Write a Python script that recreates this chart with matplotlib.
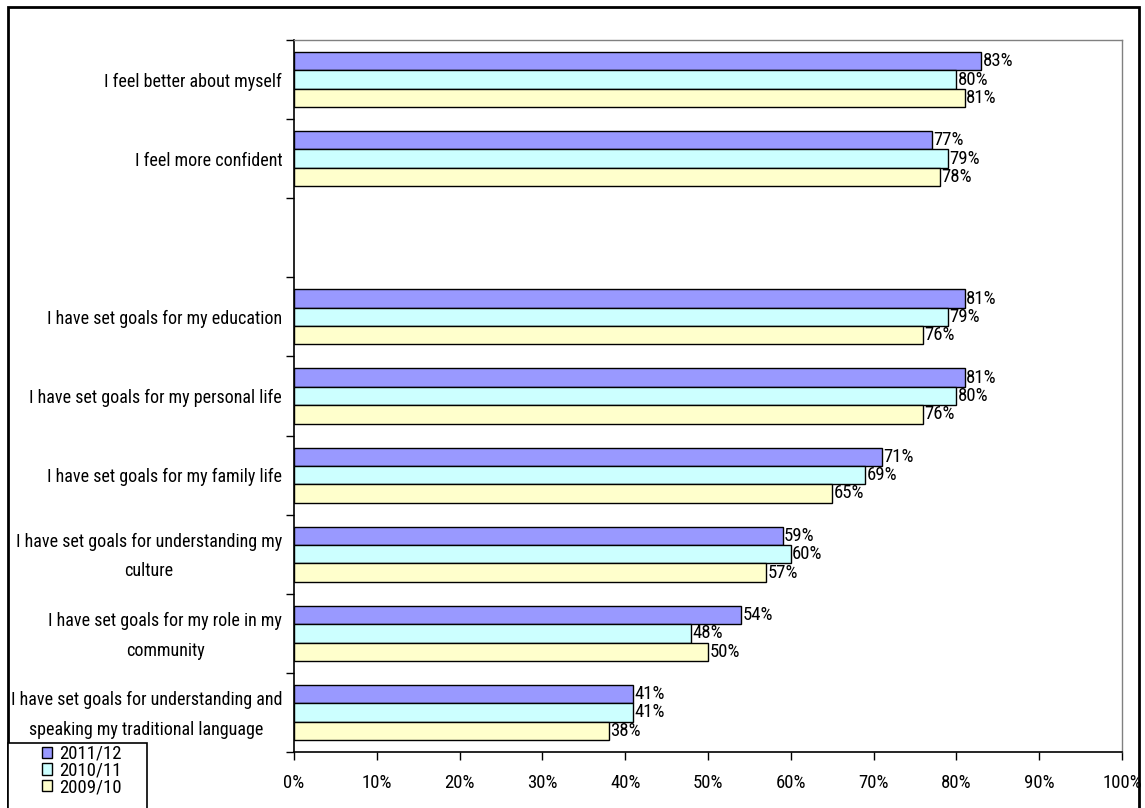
import matplotlib
matplotlib.use("Agg")
import matplotlib.pyplot as plt
from matplotlib.patches import Rectangle
from matplotlib import font_manager
from matplotlib.transforms import ScaledTranslation
import numpy as np

_avail = {f.name for f in font_manager.fontManager.ttflist}
_pref = ['Arial Narrow', 'Liberation Sans Narrow', 'Roboto Condensed', 'Archivo Narrow',
         'PT Sans Narrow', 'Liberation Sans']
_font = next((p for p in _pref if p in _avail), 'DejaVu Sans')
plt.rcParams['font.family'] = [_font, 'DejaVu Sans']

categories = [
    "I feel better about myself",
    "I feel more confident",
    "",
    "I have set goals for my education",
    "I have set goals for my personal life",
    "I have set goals for my family life",
    "I have set goals for understanding my\nculture",
    "I have set goals for my role in my\ncommunity",
    "I have set goals for understanding and\nspeaking my traditional language",
]
series_names = ["2011/12", "2010/11", "2009/10"]
v2011 = [83, 77, None, 81, 81, 71, 59, 54, 41]
v2010 = [80, 79, None, 79, 80, 69, 60, 48, 41]
v2009 = [81, 78, None, 76, 76, 65, 57, 50, 38]
colors = ["#9999FF", "#CCFFFF", "#FFFFCC"]
xticks = [0, 10, 20, 30, 40, 50, 60, 70, 80, 90, 100]

FS = 13.5
FSY = 13
W, H = 1145, 808
fig = plt.figure(figsize=(W / 100, H / 100), dpi=100)
ax = fig.add_axes([294 / W, 1 - 752 / H, (1122 - 294) / W, (752 - 40) / H])

n = len(categories)
y = np.arange(n)
bh = 0.232
offsets = [-bh, 0, bh]
handles = []
for vals, off, col, name in zip([v2011, v2010, v2009], offsets, colors, series_names):
    idx = [i for i, v in enumerate(vals) if v is not None]
    vv = [vals[i] for i in idx]
    b = ax.barh(y[idx] + off, vv, height=bh, color=col, edgecolor="black",
                linewidth=1.0, label=name, zorder=3)
    handles.append(b)
    for i, v in zip(idx, vv):
        ax.text(v + 0.15, y[i] + off, f"{v}%", va="center", ha="left",
                fontsize=FS, zorder=4)

ax.set_xlim(0, 100)
ax.set_ylim(n - 0.5, -0.5)
ax.set_xticks(xticks)
ax.set_xticklabels([f"{t}%" for t in xticks], fontsize=FS)
ax.tick_params(axis="x", length=6, width=1, pad=10)

ax.set_yticks(y)
ax.set_yticklabels(categories, fontsize=FSY, multialignment="center", linespacing=1.8)
ax.tick_params(axis="y", which="major", length=0, pad=8.5)
ax.set_yticks(np.arange(-0.5, n, 1.0), minor=True)
ax.tick_params(axis="y", which="minor", length=6, width=1)
for lab in ax.get_yticklabels():
    if "\n" in lab.get_text():
        lab.set_transform(lab.get_transform() + ScaledTranslation(0, 5 / 100, fig.dpi_scale_trans))

for s in ["left", "bottom"]:
    ax.spines[s].set_color("black")
    ax.spines[s].set_linewidth(1.2)
for s in ["top", "right"]:
    ax.spines[s].set_color("#808080")
    ax.spines[s].set_linewidth(1.0)

# figure border
fig.patches.append(Rectangle((8 / W, -0.01), (1139 - 8) / W, 1 - 7 / H + 0.01,
                             transform=fig.transFigure, fill=False,
                             edgecolor="black", linewidth=2))
# legend box
fig.patches.append(Rectangle((8 / W, -0.01), (147 - 8) / W, 1 - 743 / H + 0.01,
                             transform=fig.transFigure, fill=True, facecolor="white",
                             edgecolor="black", linewidth=1.2, zorder=5))

leg = fig.legend(handles=handles, labels=series_names, loc="upper left",
                 bbox_to_anchor=(42 / W, 1 - 745 / H),
                 fontsize=FS, frameon=False,
                 handlelength=0.55, handleheight=0.55, handletextpad=0.35,
                 labelspacing=-0.08, borderpad=0, borderaxespad=0)
leg.set_zorder(6)

fig.savefig("out.png", dpi=100)
